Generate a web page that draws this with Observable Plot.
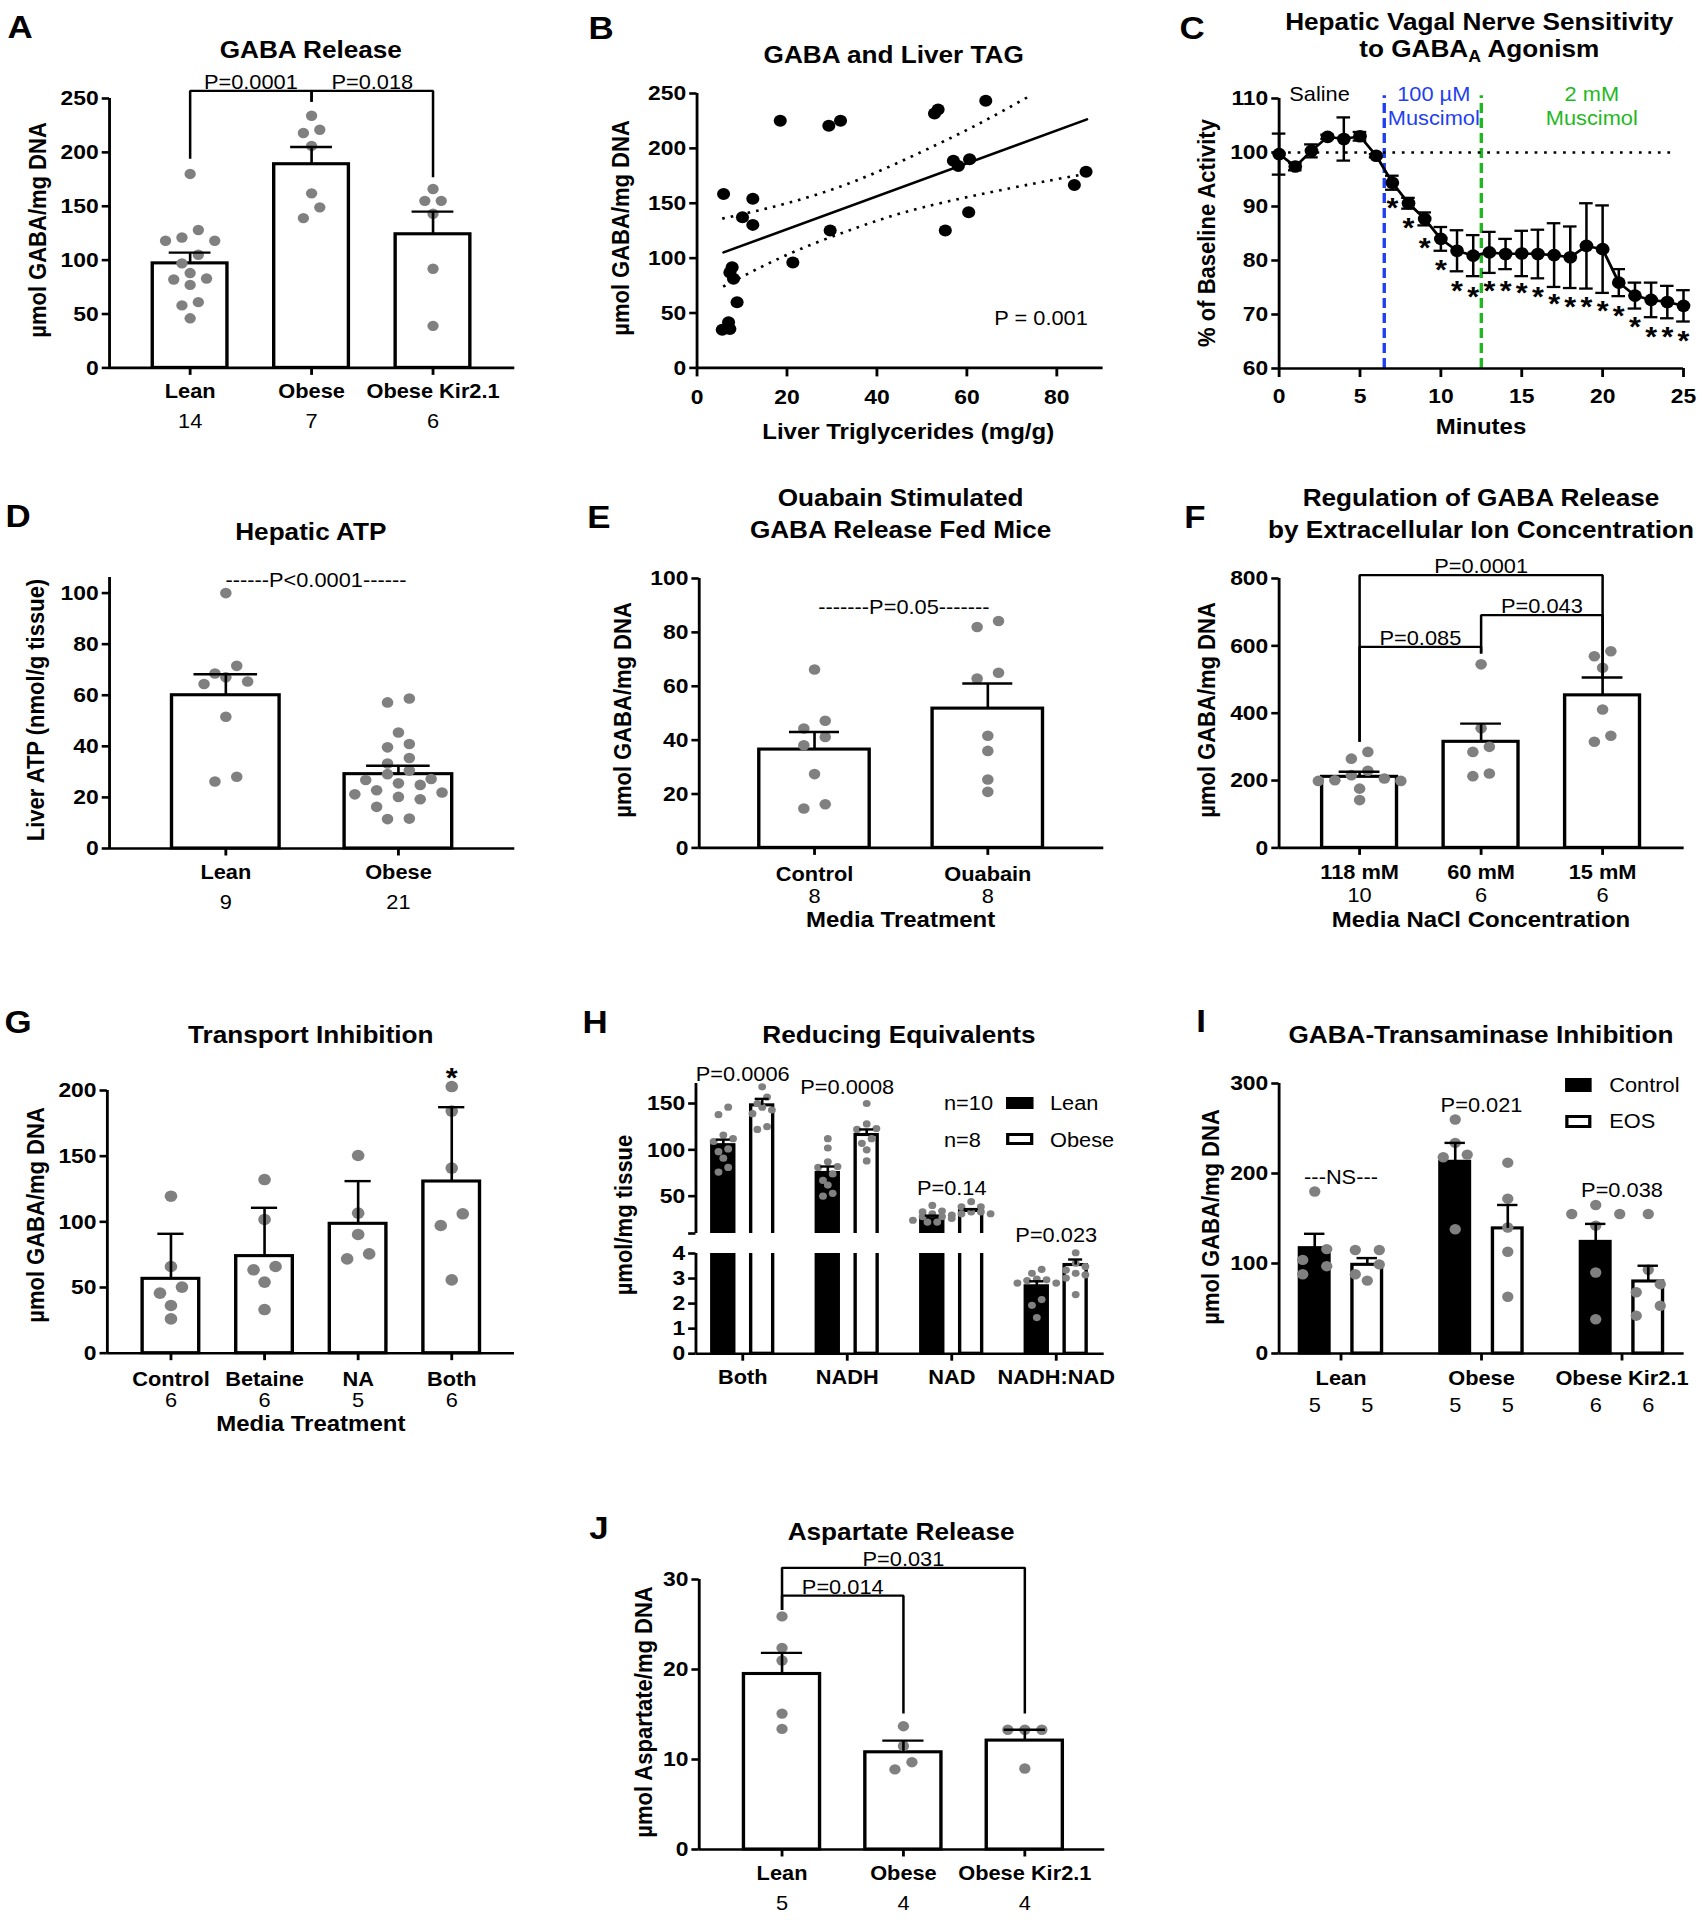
<!DOCTYPE html>
<html>
<head>
<meta charset="utf-8">
<script src="https://cdn.jsdelivr.net/npm/d3@7"></script>
<script src="https://cdn.jsdelivr.net/npm/@observablehq/plot@0.6"></script>
<style>
  html, body { margin: 0; padding: 0; background: #fff; overflow: hidden; }
  #page { position: relative; width: 1563px; height: 1920px; transform: scaleX(1.09); transform-origin: 0 0;
          background: #fff; font-family: "Liberation Sans", Arial, Helvetica, sans-serif; color: #000; }
  .t { position: absolute; white-space: nowrap; line-height: 1; transform: translate(-50%, -50%); }
  .l { position: absolute; white-space: nowrap; line-height: 1; transform: translate(0, -50%); font-size: 20px; }
  .title { font-weight: bold; font-size: 24px; }
  .letter { font-weight: bold; font-size: 32px; }
  .t.ylab { font-weight: bold; font-size: 22px; transform: translate(-50%, -50%) rotate(-90deg); }
  .xlab { font-weight: bold; font-size: 22px; }
  .sw { position: absolute; box-sizing: border-box; border: 3px solid #000; }
  sub { font-size: 0.68em; vertical-align: -0.32em; line-height: 0; }
</style>
</head>
<body>
<div id="page"></div>
<script>
// =================== DATA ===================
// A — GABA Release
const aCats = ["Lean", "Obese", "Obese Kir2.1"];
const aN = ["14", "7", "6"];
const aMean = [97, 189, 124];
const aSem = [10, 16, 21];
const aValues = [
  [180, 128, 121, 118, 118, 105, 97, 88, 83, 82, 77, 61, 58, 46],
  [234, 221, 218, 206, 162, 149, 139],
  [166, 155, 155, 143, 92, 39]
];
const aBrackets = [
  {from: 0, to: 1, y: 257, leg1: 194, leg2: 247, p: "P=0.0001"},
  {from: 1, to: 2, y: 257, leg1: 247, leg2: 177, p: "P=0.018"}
];

// B — GABA and Liver TAG
const bTAG  = [5.6, 7.0, 7.3, 5.9, 8.9, 7.8, 7.3, 8.1, 10.1, 12.4, 12.4, 18.5, 21.3, 29.3, 31.9, 29.6, 52.8, 53.6, 55.2, 57.0, 58.1, 60.6, 60.4, 64.2, 83.9, 86.5];
const bGABA = [34.8, 41.5, 35.5, 158.5, 59.7, 91.8, 87.0, 81.2, 137.3, 154.0, 130.3, 225.2, 96.1, 220.6, 225.2, 125.2, 231.8, 235.5, 125.2, 188.8, 184.0, 190.0, 141.8, 243.3, 166.7, 178.8];
const bFit = [[5.9, 105.2], [86.7, 226.4]];
const bUpper = [[5.6, 136], [20, 150], [35, 170], [50, 197], [62, 221], [74.1, 248]];
const bLower = [[5.8, 74], [20, 103], [35, 127], [50, 146], [70, 164], [86.7, 177]];
const bP = "P = 0.001";

// C — Hepatic vagal nerve sensitivity
const cMinutes = [0, 1, 2, 3, 4, 5, 6, 7, 8, 9, 10, 11, 12, 13, 14, 15, 16, 17, 18, 19, 20, 21, 22, 23, 24, 25];
const cMean = [99.7, 97.4, 100.3, 102.9, 102.5, 103.0, 99.4, 94.4, 90.6, 87.7, 84.0, 81.8, 80.9, 81.5, 81.2, 81.3, 81.2, 81.0, 80.6, 82.7, 82.1, 75.9, 73.5, 72.7, 72.3, 71.6];
const cSem  = [3.8, 0.7, 1.2, 0.4, 4.0, 0.8, 0.3, 1.3, 1.0, 1.2, 2.2, 3.8, 3.8, 3.8, 2.8, 4.2, 4.5, 5.9, 5.7, 7.9, 8.1, 2.5, 2.4, 3.2, 3.0, 2.9];
const cStarMinutes = [7, 8, 9, 10, 11, 12, 13, 14, 15, 16, 17, 18, 19, 20, 21, 22, 23, 24, 25];
const cStarLevel = [91.0, 87.3, 83.6, 79.6, 75.7, 74.6, 75.7, 75.7, 75.3, 74.5, 73.3, 72.6, 72.6, 71.9, 71.1, 68.9, 67.2, 67.2, 66.3];
const cSwitchMinutes = [6.5, 12.5];
const cBaseline = 100;
const cPhaseText = ["Saline", "100 µM", "Muscimol", "2 mM", "Muscimol"];
const cPhaseMinute = [2.5, 9.56, 9.56, 19.33, 19.33];
const cPhaseLevel = [110.8, 110.8, 106.2, 110.8, 106.2];

// D — Hepatic ATP
const dCats = ["Lean", "Obese"];
const dN = ["9", "21"];
const dMean = [60, 29.1];
const dSem = [8.2, 3.3];
const dValues = [
  [100, 71.5, 68.5, 67, 65.4, 64.4, 51.6, 28.1, 26.2],
  [58.7, 57.2, 45.4, 40.9, 39.6, 35.4, 33.3, 30.5, 29.1, 27.2, 26.8, 25.5, 24.9, 22.8, 21.9, 21.2, 20.2, 19.3, 16.3, 11.7, 11.5]
];
const dNote = "------P<0.0001------";

// E — Ouabain
const eCats = ["Control", "Ouabain"];
const eN = ["8", "8"];
const eMean = [36.5, 51.7];
const eSem = [6.5, 9.3];
const eValues = [
  [66.2, 47.2, 44.3, 41.2, 38.1, 27.4, 16.2, 14.6],
  [84.2, 82, 65, 62.9, 41.6, 36, 25.4, 20.8]
];
const eNote = "-------P=0.05-------";

// F — NaCl concentration
const fCats = ["118 mM", "60 mM", "15 mM"];
const fN = ["10", "6", "6"];
const fMean = [211, 315, 453];
const fSem = [15, 54, 53];
const fValues = [
  [285, 265, 229, 216, 206, 201, 199, 199, 176, 142],
  [545, 355, 300, 285, 221, 213],
  [584, 569, 535, 411, 333, 315]
];
const fBrackets = [
  {from: 0, to: 2, y: 810, leg1: 315, leg2: 508, p: "P=0.0001"},
  {from: 0, to: 1, y: 597, leg1: 315, leg2: 577, p: "P=0.085"},
  {from: 1, to: 2, y: 691, leg1: 577, leg2: 508, p: "P=0.043"}
];

// G — Transport inhibition
const gCats = ["Control", "Betaine", "NA", "Both"];
const gN = ["6", "6", "5", "6"];
const gMean = [56.6, 73.9, 98.5, 130.7];
const gErr = [34.3, 36.8, 32.5, 56.6];
const gValues = [
  [119.5, 66, 50.3, 45.7, 36.3, 26.1],
  [132.2, 101.8, 66, 63.5, 54.1, 33.2],
  [150.5, 106.6, 90.4, 75.6, 71.8],
  [203, 184.3, 140.9, 106.1, 97.2, 55.8]
];
const gStarLevel = 215;

// H — Reducing equivalents
const hGroups = ["Both", "NADH", "NAD", "NADH:NAD"];
const hLeanMean = [105, 75, 27, 2.69];
const hLeanSem = [6, 7, 2, 0.2];
const hObeseMean = [148, 116, 34, 3.54];
const hObeseSem = [7, 6, 2, 0.22];
const hLeanValues = [
  [146, 138, 116, 112, 109, 101, 98, 91, 81, 76],
  [112, 102, 87, 82, 81, 74, 67, 62, 53, 50],
  [40, 34, 33, 31, 28, 28, 26, 24, 22, 22],
  [3.37, 3.21, 2.98, 2.95, 2.92, 2.82, 2.82, 2.16, 1.93, 1.44]
];
const hObeseValues = [
  [168, 157, 150, 146, 143, 139, 125, 122],
  [150, 128, 123, 122, 112, 107, 100, 88],
  [44, 38.5, 38.5, 33, 33, 31, 31, 29.5],
  [4.03, 3.61, 3.48, 3.34, 3.21, 3.15, 3.02, 2.36]
];
const hP = ["P=0.0006", "P=0.0008", "P=0.14", "P=0.023"];
const hPLevel = [181.6, 167.2, 58, 4.73];
const hLegend = [["n=10", "Lean"], ["n=8", "Obese"]];

// I — GABA-transaminase inhibition
const iGroups = ["Lean", "Obese", "Obese Kir2.1"];
const iCtrlMean = [117, 213, 124];
const iCtrlSem = [16, 21, 20];
const iEosMean = [98.5, 139, 80];
const iEosSem = [7.5, 26, 17.5];
const iCtrlValues = [[180, 116, 104, 97, 88], [260, 234, 221, 218, 138], [165, 155, 155, 142, 90, 38]];
const iEosValues = [[115, 115, 99, 88, 81], [212, 172, 140, 113, 63], [155, 93, 77, 68, 53, 42]];
const iCtrlN = ["5", "5", "6"];
const iEosN = ["5", "5", "6"];
const iNotes = ["---NS---", "P=0.021", "P=0.038"];
const iNoteLevel = [195.6, 275.2, 180.7];

// J — Aspartate release
const jCats = ["Lean", "Obese", "Obese Kir2.1"];
const jN = ["5", "4", "4"];
const jMean = [19.5, 10.8, 12.1];
const jSem = [2.35, 1.3, 1.2];
const jValues = [[25.9, 22.4, 21, 15.1, 13.4], [13.7, 11.5, 9.7, 8.9], [13.3, 13.3, 13.3, 9.0]];
const jBrackets = [
  {from: 0, to: 2, y: 31.3, leg1: 26.6, leg2: 15.1, p: "P=0.031"},
  {from: 0, to: 1, y: 28.2, leg1: 26.6, leg2: 15.1, p: "P=0.014"}
];

// =================== HELPERS ===================
const FONT = '"Liberation Sans", Arial, Helvetica, sans-serif';
const S = 1.09;                 // horizontal stretch of the whole figure
const X = v => v / S;
const page = document.getElementById("page");
const GRAY = "#808080";
const AX = 2.6;
const BLUE = "#1f3ff0";
const GREEN = "#1fb81f";

function plotIn(f, xdom, ydom, marks) {
  const mL = 90, mR = 40, mT = 60, mB = 90;
  const w = X(f.x1 - f.x0), h = f.yBot - f.yTop;
  const svg = Plot.plot({
    width: w + mL + mR, height: h + mT + mB,
    marginLeft: mL, marginRight: mR, marginTop: mT, marginBottom: mB,
    x: {type: "linear", domain: xdom, axis: null},
    y: {type: "linear", domain: ydom, axis: null},
    style: {background: "transparent", overflow: "visible", fontFamily: FONT, color: "#000"},
    marks
  });
  svg.style.position = "absolute";
  svg.style.left = (X(f.x0) - mL) + "px";
  svg.style.top = (f.yTop - mT) + "px";
  svg.style.maxWidth = "none";
  svg.style.background = "transparent";
  page.appendChild(svg);
  return svg;
}

function yAxis(ticks, fmt) {
  const o = {anchor: "left", tickSize: X(7.3), tickPadding: X(3.5), fontSize: 21, fontWeight: "bold", strokeWidth: AX, label: null};
  if (fmt) o.tickFormat = fmt;
  return Plot.axisY(ticks, o);
}
function xTicks(ticks, size = 7.5) {
  return Plot.axisX(ticks, {anchor: "bottom", tickSize: size, tickFormat: () => "", strokeWidth: AX, label: null});
}

// GraphPad-like scatter: points with close values share a row, centred symmetrically
function swarm(vals, pxPerUnit, stepPx, binPx) {
  const idx = vals.map((_, i) => i).sort((p, q) => vals[q] - vals[p]);
  const off = new Array(vals.length).fill(0);
  let row = [];
  const flush = () => {
    const m = row.length;
    const slots = [];
    for (let j = 0; j < m; j++) slots.push((j - (m - 1) / 2) * stepPx);
    slots.sort((p, q) => Math.abs(p) - Math.abs(q) || q - p);
    row.forEach((i, j) => (off[i] = slots[j]));
    row = [];
  };
  for (const i of idx) {
    if (row.length && (vals[row[0]] - vals[i]) * pxPerUnit >= binPx) flush();
    row.push(i);
  }
  flush();
  return off;
}

function swarmPoints(L, groups) {
  const ppu = (L.yBot - L.yTop) / (L.ydom[1] - L.ydom[0]);
  const pts = [];
  groups.forEach(g => {
    const off = swarm(g.vals, ppu, L.step, 2 * L.r + 0.6);
    g.vals.forEach((v, i) => pts.push({x: g.x + off[i] / L.sp, v}));
  });
  return pts;
}

function barMarks(L, groups, clip) {
  const bw = (L.barW - 3.3) / L.sp;
  const y0 = clip ? 0 : L.ydom[0];
  return [
    ...["black", "white"].map(fill => Plot.rect(groups.filter(g => g.fill === fill), {
      x1: g => g.x - bw / 2, x2: g => g.x + bw / 2, y1: y0, y2: "mean",
      fill, stroke: "#000", strokeWidth: 3.1, clip: !!clip
    }))
  ];
}
function errMarks(L, groups) {
  const cw = L.capW / L.sp;
  return [
    Plot.ruleX(groups, {x: "x", y1: "mean", y2: g => g.mean + g.sem, strokeWidth: 2.4}),
    Plot.ruleY(groups, {y: g => g.mean + g.sem, x1: g => g.x - cw / 2, x2: g => g.x + cw / 2, strokeWidth: 2.4})
  ];
}

function barChart(L, groups, cats, ns, extra = []) {
  const xdom = [-(L.c0 - L.x0) / L.sp, (L.x1 - L.c0) / L.sp];
  const y0 = L.ydom[0];
  const pts = swarmPoints(L, groups);
  const marks = [
    Plot.ruleY([y0], {x1: xdom[0], x2: xdom[1], strokeWidth: AX}),
    Plot.ruleX([xdom[0]], {y1: y0, y2: L.yAxisTop, strokeWidth: AX}),
    yAxis(L.yticks),
    xTicks(cats.map(c => c.x)),
    ...barMarks(L, groups, false),
    Plot.dot(pts, {x: "x", y: "v", r: L.r, fill: GRAY}),
    ...errMarks(L, groups),
    Plot.text(cats, {x: "x", y: y0, text: "label", dy: L.catDy, fontSize: 20, fontWeight: "bold"}),
    Plot.text(ns, {x: "x", y: y0, text: "label", dy: L.nDy, fontSize: 20}),
    ...extra
  ];
  return plotIn(L, xdom, L.ydom, marks);
}

function bracketMarks(list) {
  return list.flatMap(b => [
    Plot.line([[b.from, b.leg1], [b.from, b.y], [b.to, b.y], [b.to, b.leg2]],
      {x: d => d[0], y: d => d[1], strokeWidth: 2.3, strokeLinejoin: "miter", strokeLinecap: "butt"}),
    Plot.text([b], {x: (b.from + b.to) / 2, y: b.y, text: d => d.p, dy: -8.3, fontSize: 20})
  ]);
}

function simpleGroups(means, sems, values, fill = "white") {
  return means.map((m, i) => ({x: i, mean: m, sem: sems[i], vals: values[i], fill}));
}
function labels(arr, xs) { return arr.map((label, i) => ({x: xs ? xs[i] : i, label})); }

function T(html, x, y, cls, style) {
  const d = document.createElement("div");
  d.className = cls;
  d.innerHTML = html;
  d.style.left = X(x) + "px";
  d.style.top = y + "px";
  if (style) Object.assign(d.style, style);
  page.appendChild(d);
}
function swatch(x, y, w, h, fill) {
  const d = document.createElement("div");
  d.className = "sw";
  Object.assign(d.style, {left: X(x) + "px", top: y + "px", width: X(w) + "px", height: h + "px", background: fill});
  page.appendChild(d);
}

// =================== PANEL A ===================
{
  const L = {x0: 109.1, x1: 514.4, yTop: 98.3, yBot: 367.7, c0: 189.7, sp: 121.45, ydom: [0, 250], yAxisTop: 250,
             yticks: [0, 50, 100, 150, 200, 250], barW: 78, capW: 41.8, r: 5.2, step: 16.4, catDy: 24, nDy: 54};
  barChart(L, simpleGroups(aMean, aSem, aValues), labels(aCats), labels(aN), bracketMarks(aBrackets));
}

// =================== PANEL B ===================
{
  const L = {x0: 696, x1: 1102.1, yTop: 93.3, yBot: 367.7};
  const pts = bTAG.map((t, i) => ({t, g: bGABA[i]}));
  plotIn(L, [0, 90.3], [0, 250], [
    Plot.ruleY([0], {x1: 0, x2: 90.3, strokeWidth: AX}),
    Plot.ruleX([0], {y1: 0, y2: 250, strokeWidth: AX}),
    yAxis([0, 50, 100, 150, 200, 250]),
    Plot.axisX([0, 20, 40, 60, 80], {anchor: "bottom", tickSize: 9, tickPadding: 12.5, fontSize: 21, fontWeight: "bold", strokeWidth: AX, label: null}),
    Plot.line(bUpper, {x: d => d[0], y: d => d[1], curve: "natural", strokeWidth: 2.6, strokeDasharray: "2.4,5.6", strokeLinecap: "butt"}),
    Plot.line(bLower, {x: d => d[0], y: d => d[1], curve: "natural", strokeWidth: 2.6, strokeDasharray: "2.4,5.6", strokeLinecap: "butt"}),
    Plot.line(bFit, {x: d => d[0], y: d => d[1], strokeWidth: 2.5}),
    Plot.dot(pts, {x: "t", y: "g", r: 6, fill: "#000"}),
    Plot.text([bP], {x: 86.9, y: 45.3, text: d => d, textAnchor: "end", fontSize: 20})
  ]);
}

// =================== PANEL C ===================
{
  const L = {x0: 1278.8, x1: 1683.2, yTop: 97.7, yBot: 367.7};
  const rows = cMinutes.map((m, i) => ({m, mean: cMean[i], sem: cSem[i]}));
  const stars = cStarMinutes.map((m, i) => ({m, y: cStarLevel[i]}));
  const phase = cPhaseText.map((t, i) => ({t, m: cPhaseMinute[i], y: cPhaseLevel[i], c: i === 0 ? "#000" : i < 3 ? BLUE : GREEN}));
  const cap = 0.42;
  plotIn(L, [0, 25], [60, 110], [
    Plot.ruleX([cSwitchMinutes[0]], {y1: 60, y2: 110.5, stroke: BLUE, strokeWidth: 3.1, strokeDasharray: "10,5"}),
    Plot.ruleX([cSwitchMinutes[1]], {y1: 60, y2: 110.5, stroke: GREEN, strokeWidth: 3.1, strokeDasharray: "10,5"}),
    Plot.ruleY([cBaseline], {x1: 0, x2: 24.6, strokeWidth: 2.4, strokeDasharray: "2.5,6.2"}),
    Plot.ruleY([60], {x1: 0, x2: 25, strokeWidth: AX}),
    Plot.ruleX([0], {y1: 60, y2: 110, strokeWidth: AX}),
    yAxis([60, 70, 80, 90, 100, 110]),
    Plot.axisX([0, 5, 10, 15, 20, 25], {anchor: "bottom", tickSize: 9, tickPadding: 10.8, fontSize: 21, fontWeight: "bold", strokeWidth: AX, label: null}),
    Plot.ruleX(rows, {x: "m", y1: d => d.mean - d.sem, y2: d => d.mean + d.sem, strokeWidth: 2.3}),
    Plot.ruleY(rows, {y: d => d.mean + d.sem, x1: d => d.m - cap, x2: d => d.m + cap, strokeWidth: 2.3}),
    Plot.ruleY(rows, {y: d => d.mean - d.sem, x1: d => d.m - cap, x2: d => d.m + cap, strokeWidth: 2.3}),
    Plot.line(rows, {x: "m", y: "mean", strokeWidth: 2.6}),
    Plot.dot(rows, {x: "m", y: "mean", r: 6.3, fill: "#000"}),
    Plot.text(stars, {x: "m", y: "y", text: () => "*", fontSize: 28, fontWeight: "bold", dy: 7}),
    Plot.text(phase, {x: "m", y: "y", text: "t", fill: "c", fontSize: 20})
  ]);
}

// =================== PANEL D ===================
{
  const L = {x0: 109.1, x1: 514.4, yTop: 576.7, yBot: 847.7, c0: 225.4, sp: 172.6, ydom: [0, 106.1], yAxisTop: 106.1,
             yticks: [0, 20, 40, 60, 80, 100], barW: 110.9, capW: 63.6, r: 5.3, step: 21.8, catDy: 24, nDy: 54};
  barChart(L, simpleGroups(dMean, dSem, dValues), labels(dCats), labels(dN),
    [Plot.text([dNote], {x: 0.522, y: 104.8, text: d => d, fontSize: 20})]);
}

// =================== PANEL E ===================
{
  const L = {x0: 699.2, x1: 1103.8, yTop: 578.3, yBot: 847.7, c0: 814.5, sp: 173.3, ydom: [0, 100], yAxisTop: 100,
             yticks: [0, 20, 40, 60, 80, 100], barW: 113.7, capW: 50, r: 5.3, step: 21.4, catDy: 26.5, nDy: 48.5};
  barChart(L, simpleGroups(eMean, eSem, eValues), labels(eCats), labels(eN),
    [Plot.text([eNote], {x: 0.516, y: 89.2, text: d => d, fontSize: 20})]);
}

// =================== PANEL F ===================
{
  const L = {x0: 1278.1, x1: 1683.2, yTop: 578.3, yBot: 847.7, c0: 1358.6, sp: 121.5, ydom: [0, 800], yAxisTop: 800,
             yticks: [0, 200, 400, 600, 800], barW: 78.2, capW: 40.8, r: 5.3, step: 16.5, catDy: 24.5, nDy: 47.5};
  barChart(L, simpleGroups(fMean, fSem, fValues), labels(fCats), labels(fN), bracketMarks(fBrackets));
}

// =================== PANEL G ===================
{
  const L = {x0: 107.2, x1: 514.4, yTop: 1090, yBot: 1352.7, c0: 170.8, sp: 93.6, ydom: [0, 200], yAxisTop: 200,
             yticks: [0, 50, 100, 150, 200], barW: 59.9, capW: 26.2, r: 5.8, step: 22, catDy: 26.5, nDy: 47.5};
  barChart(L, simpleGroups(gMean, gErr, gValues), labels(gCats), labels(gN),
    [Plot.text(["*"], {x: 3, y: gStarLevel, text: d => d, fontSize: 28, fontWeight: "bold", dy: 7})]);
}

// =================== PANEL H ===================
{
  const off = 0.186;
  const base = {x0: 695.5, x1: 1103.8, c0: 742.3, sp: 104.5, barW: 25.3, capW: 14, r: 3.6, step: 9.7};
  const xdom = [-(base.c0 - base.x0) / base.sp, (base.x1 - base.c0) / base.sp];
  const groups = [];
  hGroups.forEach((g, i) => {
    groups.push({gi: i, x: i - off, mean: hLeanMean[i], sem: hLeanSem[i], vals: hLeanValues[i], fill: "black"});
    groups.push({gi: i, x: i + off, mean: hObeseMean[i], sem: hObeseSem[i], vals: hObeseValues[i], fill: "white"});
  });
  // upper (broken) segment
  const Ltop = {...base, yTop: 1083.3, yBot: 1233.3, ydom: [9.7, 171.6]};
  const gTop = groups.filter(g => g.gi < 3);
  plotIn(Ltop, xdom, Ltop.ydom, [
    Plot.ruleX([xdom[0]], {y1: 9.7, y2: 171.6, strokeWidth: AX}),
    yAxis([50, 100, 150]),
    yAxis([9.7], () => ""),
    ...barMarks(Ltop, groups, true),
    Plot.dot(swarmPoints(Ltop, gTop), {x: "x", y: "v", r: Ltop.r, fill: GRAY}),
    ...errMarks(Ltop, gTop),
    Plot.text(hP.slice(0, 3).map((p, i) => ({p, x: i, y: hPLevel[i]})), {x: "x", y: "y", text: "p", fontSize: 20})
  ]);
  // lower segment
  const Lbot = {...base, yTop: 1253.3, yBot: 1353.5, ydom: [0, 4]};
  const gBot = groups.filter(g => g.gi === 3);
  plotIn(Lbot, xdom, Lbot.ydom, [
    Plot.ruleY([0], {x1: xdom[0], x2: xdom[1], strokeWidth: AX}),
    Plot.ruleX([xdom[0]], {y1: 0, y2: 4, strokeWidth: AX}),
    yAxis([0, 1, 2, 3, 4]),
    xTicks([0, 1, 2, 3]),
    ...barMarks(Lbot, groups, true),
    Plot.dot(swarmPoints(Lbot, gBot), {x: "x", y: "v", r: Lbot.r, fill: GRAY}),
    ...errMarks(Lbot, gBot),
    Plot.text(labels(hGroups), {x: "x", y: 0, text: "label", dy: 24.2, fontSize: 20, fontWeight: "bold"}),
    Plot.text([{p: hP[3], x: 3, y: hPLevel[3]}], {x: "x", y: "y", text: "p", fontSize: 20})
  ]);
  // legend
  T(hLegend[0][0], 944, 1103, "l");
  T(hLegend[1][0], 944, 1139.5, "l");
  swatch(1006, 1096.7, 27.3, 12.6, "#000");
  swatch(1006, 1132.5, 27.3, 12.6, "#fff");
  T(hLegend[0][1], 1050, 1103, "l");
  T(hLegend[1][1], 1050, 1139.5, "l");
}

// =================== PANEL I ===================
{
  const off = 0.187;
  const L = {x0: 1278.1, x1: 1683.2, yTop: 1082.7, yBot: 1352.7, c0: 1340, sp: 140.5, ydom: [0, 300], yAxisTop: 300,
             yticks: [0, 100, 200, 300], barW: 32.9, capW: 20.4, r: 5.2, step: 24, catDy: 25, nDy: 52.3};
  const groups = [];
  const ns = [];
  iGroups.forEach((g, i) => {
    groups.push({x: i - off, mean: iCtrlMean[i], sem: iCtrlSem[i], vals: iCtrlValues[i], fill: "black"});
    groups.push({x: i + off, mean: iEosMean[i], sem: iEosSem[i], vals: iEosValues[i], fill: "white"});
    ns.push({x: i - off, label: iCtrlN[i]}, {x: i + off, label: iEosN[i]});
  });
  barChart(L, groups, labels(iGroups), ns,
    [Plot.text(iNotes.map((t, i) => ({t, x: i, y: iNoteLevel[i]})), {x: "x", y: "y", text: "t", fontSize: 20})]);
  swatch(1565, 1078.3, 26.5, 13.4, "#000");
  swatch(1565, 1114.5, 26.5, 13.4, "#fff");
  T("Control", 1609.2, 1085, "l");
  T("EOS", 1609.2, 1121.3, "l");
}

// =================== PANEL J ===================
{
  const L = {x0: 698.3, x1: 1103.9, yTop: 1579.3, yBot: 1849.3, c0: 781.1, sp: 121.4, ydom: [0, 30], yAxisTop: 30,
             yticks: [0, 10, 20, 30], barW: 79.4, capW: 41.2, r: 5.2, step: 17, catDy: 24, nDy: 54};
  barChart(L, simpleGroups(jMean, jSem, jValues), labels(jCats), labels(jN), bracketMarks(jBrackets));
}

// =================== TEXT: letters, titles, axis titles ===================
[["A", 20, 26.7], ["B", 601, 28.3], ["C", 1192, 27.5], ["D", 18, 516], ["E", 599, 517], ["F", 1195, 517],
 ["G", 18, 1022], ["H", 595, 1022], ["I", 1201, 1021], ["J", 599, 1528]].forEach(([t, x, y]) => T(t, x, y, "t letter"));

[["GABA Release", 310.8, 50], ["GABA and Liver TAG", 893.7, 55],
 ["Hepatic Vagal Nerve Sensitivity", 1479.3, 21.7], ["to GABA<sub>A</sub> Agonism", 1479.3, 49],
 ["Hepatic ATP", 310.8, 531.7], ["Ouabain Stimulated", 900.6, 498], ["GABA Release Fed Mice", 900.6, 530],
 ["Regulation of GABA Release", 1481, 498.3], ["by Extracellular Ion Concentration", 1481, 530],
 ["Transport Inhibition", 310.8, 1035], ["Reducing Equivalents", 898.9, 1035],
 ["GABA-Transaminase Inhibition", 1481, 1035], ["Aspartate Release", 901.1, 1531.7]
].forEach(([t, x, y]) => T(t, x, y, "t title"));

[["µmol GABA/mg DNA", 38.2, 230], ["µmol GABA/mg DNA", 621.7, 228], ["% of Baseline Activity", 1207.4, 233],
 ["Liver ATP (nmol/g tissue)", 36.4, 710], ["µmol GABA/mg DNA", 623.4, 710], ["µmol GABA/mg DNA", 1207.4, 710],
 ["µmol GABA/mg DNA", 36.4, 1215], ["µmol/mg tissue", 625.1, 1215], ["µmol GABA/mg DNA", 1210.8, 1216.7],
 ["µmol Aspartate/mg DNA", 644.2, 1711.7]
].forEach(([t, x, y]) => T(t, x, y, "t ylab"));

[["Liver Triglycerides (mg/g)", 908.2, 432.3], ["Minutes", 1481, 427], ["Media Treatment", 900.6, 920],
 ["Media NaCl Concentration", 1481, 920], ["Media Treatment", 310.8, 1424]
].forEach(([t, x, y]) => T(t, x, y, "t xlab"));
</script>
</body>
</html>
